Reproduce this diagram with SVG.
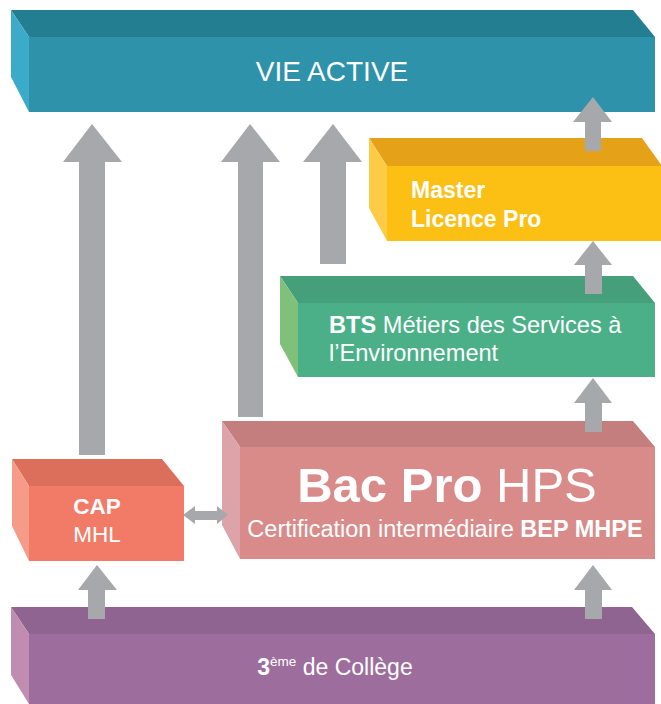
<svg xmlns="http://www.w3.org/2000/svg" width="661" height="704" viewBox="0 0 661 704">
<style>
text{font-family:"Liberation Sans",Arial,sans-serif;fill:#ffffff}
.b{font-weight:bold}
.arr{fill:#A7A8AB}
</style>
<rect width="661" height="704" fill="#ffffff"/>
<g id="vie-active">
<polygon points="11,10 633,10 655,37 29,37" fill="#237E92"/>
<polygon points="11,10 29,37 29,112 11,77" fill="#3BABC9"/>
<rect x="29" y="37" width="626" height="75" fill="#2E92AA"/>
<text x="332" y="81" font-size="28" text-anchor="middle">VIE ACTIVE</text>
</g>
<g id="master">
<polygon points="369,138 642,138 662,166 387,166" fill="#E5A118"/>
<polygon points="369,138 387,166 387,241 369,208" fill="#FDCB45"/>
<rect x="387" y="166" width="275" height="75" fill="#FCC014"/>
<text class="b" x="411" y="198" font-size="23">Master</text>
<text class="b" x="411" y="227" font-size="23">Licence Pro</text>
</g>
<g id="bts">
<polygon points="280,276 633,276 655,303 298,303" fill="#459F7A"/>
<polygon points="280,276 298,303 298,377 280,344" fill="#7FC07A"/>
<rect x="298" y="303" width="357" height="74" fill="#4BB088"/>
<text x="329" y="333" font-size="23.6"><tspan class="b">BTS</tspan> Métiers des Services à</text>
<text x="329" y="361" font-size="23.6">l’Environnement</text>
</g>
<g id="bac-pro">
<polygon points="222,421 633,421 655,447 240,447" fill="#C47E7D"/>
<polygon points="222,421 240,447 240,559 222,525" fill="#DCA4A9"/>
<rect x="240" y="447" width="415" height="112" fill="#D98B8A"/>
<text x="447" y="502" font-size="49" text-anchor="middle"><tspan class="b">Bac Pro</tspan> HPS</text>
<text x="445" y="537" font-size="23.5" text-anchor="middle">Certification intermédiaire <tspan class="b">BEP MHPE</tspan></text>
</g>
<g id="cap">
<polygon points="12,459 162,459 184,486 29,486" fill="#DC6E5C"/>
<polygon points="12,459 29,486 29,561 12,526" fill="#F59B88"/>
<rect x="29" y="486" width="155" height="75" fill="#F27B67"/>
<text class="b" x="97" y="514" font-size="22.5" text-anchor="middle">CAP</text>
<text x="97" y="542" font-size="22.5" text-anchor="middle">MHL</text>
</g>
<g id="college">
<polygon points="11,607 632,607 655,634 29,634" fill="#8F6490"/>
<polygon points="11,607 29,634 29,704 11,675" fill="#C08DB1"/>
<rect x="29" y="634" width="626" height="70" fill="#9D6E9D"/>
<text x="335" y="675" font-size="23" text-anchor="middle"><tspan class="b">3</tspan><tspan font-size="13.5" dy="-9">ème</tspan><tspan dy="9"> de Collège</tspan></text>
</g>
<g id="connectors">
<polygon class="arr" points="92,124 122,162 105,162 105,455 79,455 79,162 63,162"/>
<polygon class="arr" points="250,124 280,162 263,162 263,417 238,417 238,162 221,162"/>
<polygon class="arr" points="333,124 362,162 346,162 346,264 320,264 320,162 303,162"/>
<polygon class="arr" points="593,97 612,122 601,122 601,151 585,151 585,122 573,122"/>
<polygon class="arr" points="593,241 612,265 602,265 602,294 585,294 585,265 574,265"/>
<polygon class="arr" points="593,378 612,403 602,403 602,432 585,432 585,403 574,403"/>
<polygon class="arr" points="593,565 612,590 602,590 602,619 585,619 585,590 574,590"/>
<polygon class="arr" points="97,565 117,590 105,590 105,619 88,619 88,590 78,590"/>
<polygon class="arr" points="183,515 195,506 195,511 217,511 217,506 228,515 217,524 217,520 195,520 195,524"/>
</g>
</svg>
